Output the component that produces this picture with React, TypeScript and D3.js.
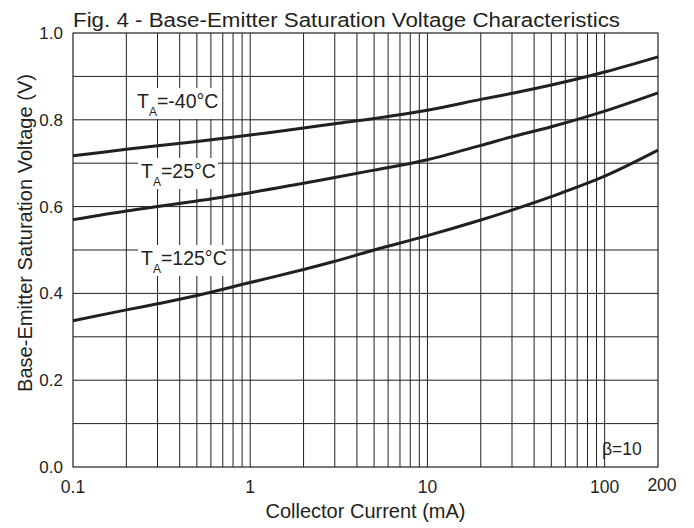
import React from "react";
import * as d3 from "d3";

const currents = [0.1, 0.2, 0.3, 0.5, 1, 2, 3, 5, 10, 20, 30, 50, 100, 200];
const vMinus40 = [0.717, 0.732, 0.740, 0.750, 0.765, 0.781, 0.791, 0.803, 0.822, 0.847, 0.861, 0.880, 0.910, 0.945];
const v25 = [0.570, 0.590, 0.600, 0.613, 0.632, 0.654, 0.667, 0.684, 0.708, 0.741, 0.761, 0.784, 0.820, 0.862];
const v125 = [0.337, 0.362, 0.376, 0.395, 0.425, 0.455, 0.474, 0.500, 0.533, 0.569, 0.592, 0.623, 0.670, 0.730];

const xTickLabels = ["0.1", "1", "10", "100", "200"];
const xTickValues = [0.1, 1, 10, 100, 200];
const yTickValues = [0, 0.2, 0.4, 0.6, 0.8, 1.0];
const yGridValues = [0.1, 0.2, 0.3, 0.4, 0.5, 0.6, 0.7, 0.8, 0.9];
const xGridValues = [0.2, 0.3, 0.4, 0.5, 0.6, 0.7, 0.8, 0.9, 1, 2, 3, 4, 5, 6, 7, 8, 9, 10, 20, 30, 40, 50, 60, 70, 80, 90, 100];

const seriesLabels = [
  { temp: "-40°C", values: vMinus40, lx: 137, ly: 108 },
  { temp: "25°C", values: v25, lx: 141, ly: 178 },
  { temp: "125°C", values: v125, lx: 141, ly: 265 },
];

const FONT = "'Liberation Sans', Arial, Helvetica, sans-serif";
const INK = "#231f20";

export default function App() {
  const left = 73, right = 658, top = 33, bottom = 467;
  const x = d3.scaleLog().domain([0.1, 200]).range([left, right]);
  const y = d3.scaleLinear().domain([0, 1]).range([bottom, top]);
  const line = d3
    .line<number>()
    .x((_, i) => x(currents[i]))
    .y((d) => y(d))
    .curve(d3.curveCatmullRom.alpha(0.5));

  return (
    <svg
      width={694}
      height={528}
      style={{ position: "absolute", left: 0, top: 0, background: "#fff" }}
      fontFamily={FONT}
    >
      <rect x={0} y={0} width={694} height={528} fill="#fff" />
      {/* grid */}
      {yGridValues.map((v) => (
        <line key={"yg" + v} x1={left} x2={right} y1={y(v)} y2={y(v)} stroke={INK} strokeWidth={1} />
      ))}
      {xGridValues.map((v) => (
        <line key={"xg" + v} x1={x(v)} x2={x(v)} y1={top} y2={bottom} stroke={INK} strokeWidth={1} />
      ))}
      <rect x={left} y={top} width={right - left} height={bottom - top} fill="none" stroke={INK} strokeWidth={1.2} />

      {/* curves */}
      {seriesLabels.map((s) => (
        <path key={"c" + s.temp} d={line(s.values) || ""} fill="none" stroke={INK} strokeWidth={3} />
      ))}

      {/* curve labels */}
      {seriesLabels.map((s) => {
        const w = s.temp.length === 5 ? 87 : 80;
        return (
          <g key={"l" + s.temp}>
            <rect x={s.lx - 3} y={s.ly - 20} width={w} height={31} fill="#fff" />
            <text x={s.lx} y={s.ly} fontSize={19.5} fill={INK}>
              T
              <tspan fontSize={12} dy={8}>A</tspan>
              <tspan dy={-8}>={s.temp}</tspan>
            </text>
          </g>
        );
      })}

      {/* y ticks */}
      {yTickValues.map((v) => (
        <text key={"yt" + v} x={63} y={y(v) + 6} textAnchor="end" fontSize={17} fill={INK}>
          {v.toFixed(1)}
        </text>
      ))}
      {/* x ticks */}
      {xTickValues.map((v, i) => (
        <text
          key={"xt" + v}
          x={v === 200 ? x(v) + 4 : x(v)}
          y={v === 200 ? 491 : 493}
          textAnchor="middle"
          fontSize={17.5}
          fill={INK}
        >
          {xTickLabels[i]}
        </text>
      ))}

      <text x={602} y={455} fontSize={17.5} fill={INK}>β=10</text>

      <text x={73} y={27} fontSize={19.5} fill={INK} textLength={547} lengthAdjust="spacingAndGlyphs">
        Fig. 4 - Base-Emitter Saturation Voltage Characteristics
      </text>
      <text x={(left + right) / 2} y={518} textAnchor="middle" fontSize={20} fill={INK}>
        Collector Current (mA)
      </text>
      <text
        transform={`translate(32, 233) rotate(-90)`}
        textAnchor="middle"
        fontSize={20.5}
        fill={INK}
        textLength={318}
        lengthAdjust="spacingAndGlyphs"
      >
        Base-Emitter Saturation Voltage (V)
      </text>
    </svg>
  );
}
